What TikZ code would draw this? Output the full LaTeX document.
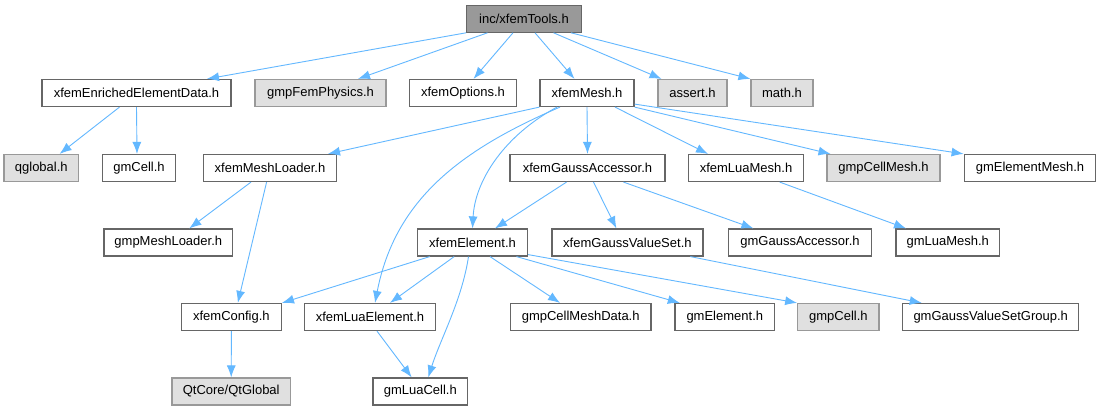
\documentclass[tikz,border=0pt]{standalone}
\usepackage{fontspec}
\setmainfont{Liberation Sans}
\usetikzlibrary{arrows.meta}
\definecolor{edgec}{HTML}{63B8FF}
\definecolor{bwhite}{HTML}{666666}
\definecolor{gfill}{HTML}{E0E0E0}
\definecolor{gborder}{HTML}{999999}
\definecolor{rootfill}{HTML}{999999}
\begin{document}
\begin{tikzpicture}[x=1pt,y=-1pt,
 box/.style={draw=bwhite, line width=1.2pt, fill=white, minimum height=27pt, inner sep=0pt, font=\fontsize{13}{15}\selectfont},
 ext/.style={box, draw=gborder, fill=gfill},
 rootbox/.style={box, fill=rootfill},
 dep/.style={draw=edgec, line width=0.9pt, -{Latex[length=12pt,width=9pt]}}]
\useasboundingbox[fill=white] (0,0) rectangle (1099,411);
% row 0
\node[rootbox, minimum width=114.6pt] (root) at (524,18.7) {inc/xfemTools.h};
% row 1
\node[box, minimum width=189pt] (eed) at (136.5,93) {xfemEnrichedElementData.h};
\node[ext, minimum width=131pt] (fp) at (320.5,93) {gmpFemPhysics.h};
\node[box, minimum width=106.5pt] (opt) at (463,93) {xfemOptions.h};
\node[box, minimum width=94pt] (mesh) at (587,93) {xfemMesh.h};
\node[ext, minimum width=69pt] (assert) at (692.5,93) {assert.h};
\node[ext, minimum width=62pt] (math) at (782,93) {math.h};
% row 2
\node[ext, minimum width=74.6pt] (qglobal) at (41.3,168) {qglobal.h};
\node[box, minimum width=73.5pt] (gmcell) at (139,168) {gmCell.h};
\node[box, minimum width=132.5pt] (loader) at (270,168) {xfemMeshLoader.h};
\node[box, minimum width=155pt] (ga) at (587.5,168) {xfemGaussAccessor.h};
\node[box, minimum width=115pt] (luamesh) at (746,168) {xfemLuaMesh.h};
\node[ext, minimum width=113pt] (cellmesh) at (883.5,168) {gmpCellMesh.h};
\node[box, minimum width=131.6pt] (elmesh) at (1030,168) {gmElementMesh.h};
% row 3
\node[box, minimum width=128.6pt] (gmpml) at (168.3,242.5) {gmpMeshLoader.h};
\node[box, minimum width=110pt] (xel) at (472.5,242.5) {xfemElement.h};
\node[box, minimum width=151pt] (gvs) at (627.4,242.5) {xfemGaussValueSet.h};
\node[box, minimum width=143.7pt] (gmga) at (800,242.5) {gmGaussAccessor.h};
\node[box, minimum width=103.5pt] (gmluamesh) at (947.7,242.5) {gmLuaMesh.h};
% row 4
\node[box, minimum width=100pt] (config) at (231.4,317) {xfemConfig.h};
\node[box, minimum width=130.8pt] (luael) at (370,317) {xfemLuaElement.h};
\node[box, minimum width=140.5pt] (cmd) at (580.7,317) {gmpCellMeshData.h};
\node[box, minimum width=99.6pt] (gmel) at (724.8,317) {gmElement.h};
\node[ext, minimum width=81.3pt] (gmpcell) at (838.4,317) {gmpCell.h};
\node[box, minimum width=176.2pt] (gvsg) at (990.7,317) {gmGaussValueSetGroup.h};
% row 5
\node[ext, minimum width=118.5pt] (qt) at (231.2,391.5) {QtCore/QtGlobal};
\node[box, minimum width=94.7pt] (luacell) at (420.3,391.5) {gmLuaCell.h};
% edges from root
\draw[dep] (root.south west) -- ([xshift=70.5pt]eed.north);
\draw[dep] ([xshift=-36.5pt]root.south) -- ([xshift=37.5pt]fp.north);
\draw[dep] ([xshift=-11pt]root.south) -- ([xshift=10.5pt]opt.north);
\draw[dep] ([xshift=11pt]root.south) -- ([xshift=-12.5pt]mesh.north);
\draw[dep] ([xshift=29.5pt]root.south) -- ([xshift=-31pt]assert.north);
\draw[dep] ([xshift=47pt]root.south) -- (math.north west);
% eed
\draw[dep] ([xshift=-17pt]eed.south) -- ([xshift=18.3pt]qglobal.north);
\draw[dep] (eed.south) -- ([xshift=-2pt]gmcell.north);
% mesh
\draw[dep] (mesh.south west) -- ([xshift=58pt]loader.north);
\draw[dep] (mesh.south) -- (ga.north);
\draw[dep] ([xshift=28pt]mesh.south) -- ([xshift=-38pt]luamesh.north);
\draw[dep] (mesh.south east) -- ([xshift=-53pt]cellmesh.north);
\draw[dep] ([yshift=3pt]mesh.south east) -- (elmesh.north west);
\draw[dep] ([xshift=-30pt]mesh.south) .. controls (505,135) and (475,180) .. (xel.north);
\draw[dep] ([xshift=-27pt]mesh.south) .. controls (460,150) and (395,200) .. ([xshift=5pt]luael.north);
% loader
\draw[dep] ([xshift=-19pt]loader.south) -- ([xshift=21pt]gmpml.north);
\draw[dep] ([xshift=-3.4pt]loader.south) -- ([xshift=6.4pt]config.north);
% ga
\draw[dep] ([xshift=-21pt]ga.south) -- ([xshift=22.5pt]xel.north);
\draw[dep] ([xshift=6pt]ga.south) -- ([xshift=-11pt]gvs.north);
\draw[dep] ([xshift=36pt]ga.south) -- ([xshift=-46.6pt]gmga.north);
% luamesh
\draw[dep] ([xshift=33.7pt]luamesh.south) -- ([xshift=-41.7pt]gmluamesh.north);
% gvs
\draw[dep] ([xshift=63pt]gvs.south) -- ([xshift=-69pt]gvsg.north);
% xel
\draw[dep] ([xshift=-42.8pt]xel.south) -- (config.north east);
\draw[dep] ([xshift=-18.3pt]xel.south) -- ([xshift=20pt]luael.north);
\draw[dep] ([xshift=-4pt]xel.south) .. controls (462,300) and (440,340) .. ([xshift=8pt]luacell.north);
\draw[dep] ([xshift=17.5pt]xel.south) -- ([xshift=-20.7pt]cmd.north);
\draw[dep] ([xshift=44pt]xel.south) -- ([xshift=-45pt]gmel.north);
\draw[dep] ([yshift=2pt]xel.south east) -- (gmpcell.north west);
% config, luael
\draw[dep] (config.south) -- (qt.north);
\draw[dep] ([xshift=7pt]luael.south) -- ([xshift=-8.6pt]luacell.north);
\end{tikzpicture}
\end{document}
